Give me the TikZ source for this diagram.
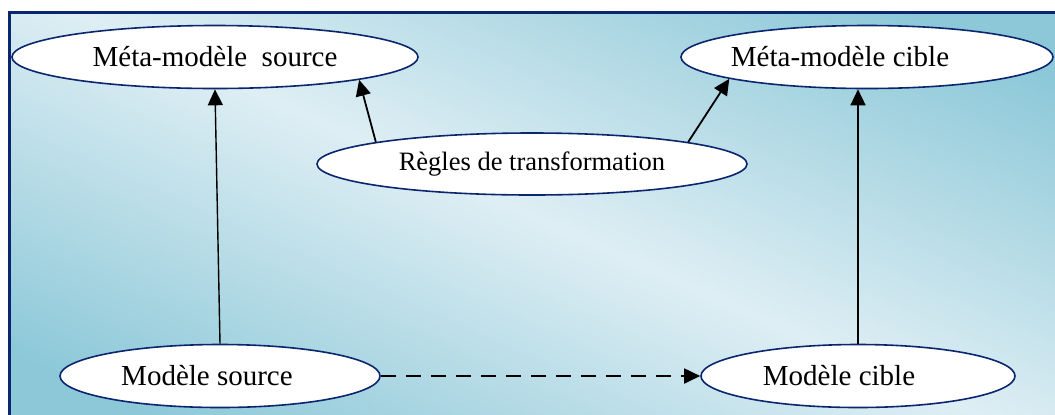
\documentclass[tikz,border=0pt]{standalone}
\usepackage{fontspec}
\setmainfont{Liberation Serif}
\usetikzlibrary{shapes.geometric,arrows.meta}

\definecolor{fondclair}{RGB}{222,238,244}
\definecolor{fondfonce}{RGB}{140,200,216}
\definecolor{bordbleu}{RGB}{10,38,110}
\pgfdeclarehorizontalshading{fond}{100bp}{color(0bp)=(fondfonce); color(22bp)=(fondfonce); color(50bp)=(fondclair); color(78bp)=(fondfonce); color(100bp)=(fondfonce)}

\begin{document}
\begin{tikzpicture}[x=0.5pt,y=-0.5pt]
  % Styles
  \tikzstyle{modele}=[ellipse,draw=bordbleu,line width=0.8pt,fill=white,inner sep=0pt,
    font=\fontsize{14.5}{17}\selectfont]
  \tikzstyle{fleche}=[line width=0.7pt,-{Triangle[length=8pt,width=7.5pt]}]

  % Le cadre
  \useasboundingbox (0,0) rectangle (1055,414);
  \clip (0,0) rectangle (1055,414);
  \shade[shading=fond,shading angle=66] (9,12) rectangle (1065,424);
  \draw[bordbleu,line width=1.5pt] (9,12) rectangle (1065,424);

  % Les noeuds (texte un peu decale a gauche)
  \node[modele,minimum width=203pt,minimum height=31.5pt] (metasrc) at (215,57)
    {Méta-modèle\ \ source};
  \node[modele,minimum width=186pt,minimum height=31.5pt] (metacib) at (867,57)
    {\makebox[0pt]{Méta-modèle cible\kern27pt}};
  \node[modele,minimum width=215pt,minimum height=31pt,
    font=\fontsize{13.25}{16}\selectfont] (regles) at (532,164)
    {Règles de transformation};
  \node[modele,minimum width=160pt,minimum height=31.5pt] (modsrc) at (220,376)
    {\makebox[0pt]{Modèle source\kern13pt}};
  \node[modele,minimum width=157pt,minimum height=31.5pt] (modcib) at (858,376)
    {\makebox[0pt]{Modèle cible\kern19pt}};

  % Les fleches
  \draw[fleche] (modsrc.north) -- (metasrc.south);
  \draw[fleche] (modcib.north) -- (modcib.north |- metacib.south);
  \draw[fleche,line width=0.9pt] (regles.172) -- (metasrc.351);
  \draw[fleche,line width=0.9pt] (regles.8) -- (metacib.189);
  \draw[fleche,line width=0.9pt,dash pattern=on 7.5pt off 5pt] (modsrc.east) -- (modcib.west);
\end{tikzpicture}
\end{document}
